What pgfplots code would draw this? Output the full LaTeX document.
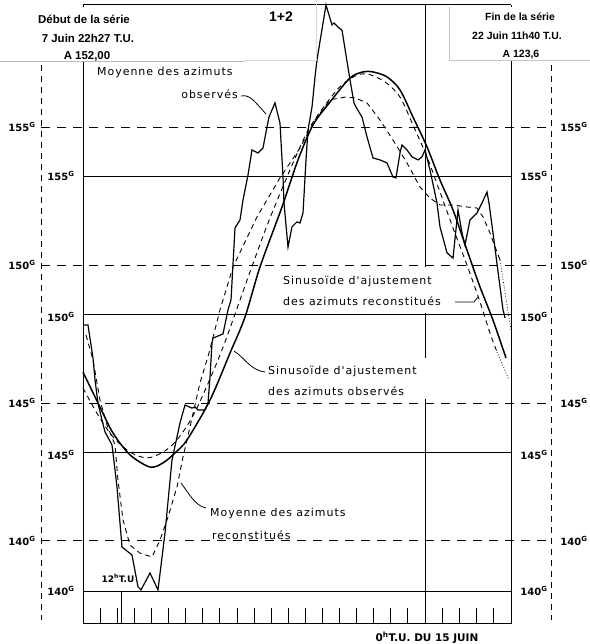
\documentclass[border=0pt]{standalone}
\usepackage{pgfplots}
\pgfplotsset{compat=1.18}
\usepackage{fontspec}
\setmainfont{DejaVu Sans}
\newfontfamily\annot[LetterSpace=9]{DejaVu Sans}
\newfontfamily\boxfont{Liberation Sans}
\begin{document}
\begin{tikzpicture}
\begin{axis}[
  width=590bp, height=644bp, scale only axis,
  xmin=-16.569, xmax=6.433, ymin=138.085, ymax=161.359,
  axis lines=none, clip=false, ticks=none,
]
% solid grid (inner scale)
\draw[line width=0.9pt] (axis cs:-13.333,155) -- (axis cs:3.353,155);
\draw[line width=0.9pt] (axis cs:-13.333,150) -- (axis cs:3.353,150);
\draw[line width=0.9pt] (axis cs:-13.333,145) -- (axis cs:3.353,145);
\draw[line width=0.9pt] (axis cs:-13.333,140) -- (axis cs:3.353,140);
\draw[line width=0.9pt] (axis cs:-13.333,161.18) -- (axis cs:3.353,161.18);
\draw[line width=0.9pt] (axis cs:-13.333,138.81) -- (axis cs:3.353,138.81);
\draw[line width=0.9pt] (axis cs:-13.333,161.18) -- (axis cs:-13.333,138.81);
\draw[line width=0.9pt] (axis cs:3.353,161.18) -- (axis cs:3.353,138.81);
\draw[line width=0.9pt] (axis cs:0,161.18) -- (axis cs:0,138.81);
\draw[line width=0.9pt] (axis cs:-11.852,140) -- (axis cs:-11.852,138.81);
\pgfplotsinvokeforeach{-12.667,-12,-11.333,-10.667,-10,-9.333,-8.667,-8,-7.333,-6.667,-6,-5.333,-4.667,-4,-3.333,-2.667,-2,-1.333,-0.667,0.667,1.333,2,2.667}{
  \draw[line width=0.8pt] (axis cs:#1,138.81) -- (axis cs:#1,139.39);
}
% dashed grid (outer scale)
\draw[line width=0.9pt, dash pattern=on 9bp off 7bp] (axis cs:-14.971,141.81) -- (axis cs:4.912,141.81);
\draw[line width=0.9pt, dash pattern=on 9bp off 7bp] (axis cs:-14.971,146.79) -- (axis cs:4.912,146.79);
\draw[line width=0.9pt, dash pattern=on 9bp off 7bp] (axis cs:-14.971,151.78) -- (axis cs:4.912,151.78);
\draw[line width=0.9pt, dash pattern=on 9bp off 7bp] (axis cs:-14.971,156.77) -- (axis cs:4.912,156.77);
\draw[line width=0.7pt, dash pattern=on 6bp off 5bp] (axis cs:-14.971,161.0) -- (axis cs:-14.971,138.95);
\draw[line width=0.7pt, dash pattern=on 6bp off 5bp] (axis cs:4.912,161.0) -- (axis cs:4.912,138.95);

% Moyenne des azimuts observes
\addplot[black, line width=1.2pt, sharp plot] coordinates {
(-13.333,149.61) (-13.138,149.61) (-12.943,148.42) (-12.865,147.63) (-12.749,146.79)
(-12.593,146.18) (-12.476,145.75) (-12.203,145.28) (-12.164,144.99) (-12.008,143.76)
(-11.813,141.59) (-11.423,141.30) (-11.189,140.15) (-11.072,140.04) (-10.721,140.65)
(-10.409,140.04) (-10.136,142.10) (-9.864,144.73) (-9.552,146.07) (-9.357,146.72)
(-9.084,146.61) (-8.967,146.65) (-8.850,146.54) (-8.577,146.54) (-8.460,146.79)
(-8.382,147.73) (-8.304,148.96) (-8.265,149.14) (-7.875,149.29) (-7.680,150.16)
(-7.563,150.52) (-7.407,153.12) (-7.212,153.41) (-7.096,154.13) (-6.901,155.03)
(-6.745,155.94) (-6.511,155.83) (-6.316,156.01) (-6.160,156.77) (-6.082,157.13)
(-5.848,157.64) (-5.653,156.91) (-5.536,154.96) (-5.497,154.02) (-5.341,152.43)
(-5.185,153.16) (-4.990,153.34) (-4.873,153.30) (-4.756,153.66) (-4.639,155.58)
(-4.561,156.66) (-4.405,157.49) (-4.288,158.58) (-4.211,159.19) (-3.860,161.18)
(-3.626,160.46) (-3.548,160.53) (-3.353,160.35) (-3.236,160.27) (-2.924,158.47)
(-2.768,157.64) (-2.690,157.49) (-2.456,157.13) (-2.261,156.41) (-2.027,155.65)
(-1.754,155.58) (-1.481,155.47) (-1.248,154.96) (-1.131,154.93) (-0.975,155.83)
(-0.897,156.12) (-0.702,155.94) (-0.507,155.69) (-0.273,155.58) (-0.117,155.69)
(0,155.94) (0.195,155.22) (0.468,154.02) (0.585,153.16) (0.858,152.22)
(1.092,152.03) (1.287,153.77) (1.443,152.94) (1.559,152.50) (1.754,153.41)
(2.027,153.66) (2.222,154.02) (2.417,154.42) (2.495,154.02) (2.651,152.94)
(3.041,150.16) (3.119,149.87)
};
% Sinusoide d'ajustement des azimuts observes
\addplot[black, line width=1.5pt, smooth] coordinates {
(-13.333,147.91) (-12.671,146.65) (-12.164,145.71) (-11.501,144.92) (-10.721,144.48)
(-10.214,144.63) (-9.747,144.99) (-9.279,145.46) (-8.382,146.90) (-7.602,148.60)
(-7.018,149.90) (-6.433,151.71) (-5.575,153.88) (-4.951,155.58) (-4.366,156.84)
(-3.704,157.67) (-2.924,158.54) (-2.417,158.76) (-2.027,158.76) (-1.481,158.58)
(-0.975,158.11) (-0.468,157.13) (0.078,156.05) (0.585,154.85) (1.092,153.77)
(1.637,152.32) (2.144,150.99) (2.651,149.79) (3.158,148.42)
};
% Sinusoide d'ajustement des azimuts reconstitues
\addplot[black, line width=0.9pt, smooth, dash pattern=on 5bp off 4bp] coordinates {
(-13.333,147.34) (-12.749,146.36) (-12.164,145.57) (-11.501,145.02) (-10.838,144.81)
(-10.214,145.02) (-9.669,145.46) (-8.967,146.47) (-7.992,148.53) (-7.212,150.52)
(-6.628,152.03) (-6.043,153.48) (-5.146,155.47) (-4.483,156.77) (-3.431,158.11)
(-2.729,158.61) (-2.222,158.68) (-1.559,158.40) (-0.975,157.85) (-0.468,156.84)
(0.078,155.69) (0.585,154.42) (1.092,153.12) (1.637,151.78) (2.144,150.45)
(2.534,149.32) (2.807,148.64)
};
\addplot[black, line width=0.8pt, dotted] coordinates {(2.807,148.64) (3.275,147.63)};
% Moyenne des azimuts reconstitues
\addplot[black, line width=0.9pt, sharp plot, dash pattern=on 5bp off 4bp] coordinates {
(-13.216,149.25) (-12.943,148.35) (-12.671,146.90) (-12.398,146.00) (-12.086,145.28)
(-11.969,144.01) (-11.774,142.57) (-11.501,141.66) (-11.111,141.37) (-10.643,141.23)
(-10.331,141.84) (-10.020,142.67) (-9.669,143.76) (-9.435,144.84) (-9.162,145.93)
(-8.772,147.52) (-8.421,148.60) (-7.992,150.16) (-7.485,151.71) (-6.550,153.52)
(-5.653,154.93) (-4.873,156.01) (-4.288,157.02) (-3.704,157.75) (-3.119,157.85)
(-2.729,157.82) (-2.261,157.64) (-1.754,157.02) (-1.248,156.30) (-0.702,155.47)
(-0.195,154.60) (0.195,154.20) (0.585,153.95) (1.092,153.95) (1.637,153.88)
(2.027,153.84) (2.261,153.52) (2.534,152.94) (2.924,151.96)
};
\addplot[black, line width=0.8pt, dotted] coordinates {(2.924,151.96) (3.353,149.43)};
\end{axis}
% annotations in picture pixel coordinates
\begin{scope}[x=1bp,y=-1bp,shift={(0,644bp)}]
% white ground behind the curve labels (they interrupt the 0h line)
\fill[white] (278,267) rectangle (449,313);
\fill[white] (264,358) rectangle (445,399);
% overlay boxes
\fill[white] (0,7) rectangle (316,61);
\draw[gray!55, line width=0.6pt] (0,61) -- (245,61);
\draw[gray!30, line width=0.6pt] (245,60) -- (316,60) -- (316,0);
\fill[white] (449,7) rectangle (590,60);
\draw[gray!45, line width=0.6pt] (449,7) -- (449,60) -- (590,60);
\node[font=\boxfont\bfseries\fontsize{11.5}{12}\selectfont] at (84,19) {Début de la série};
\node[font=\boxfont\bfseries\fontsize{11.5}{12}\selectfont] at (88,38) {7 Juin 22h27 T.U.};
\node[font=\boxfont\bfseries\fontsize{11.5}{12}\selectfont] at (87,56) {A 152,00};
\node[font=\boxfont\bfseries\fontsize{14}{14}\selectfont] at (281,17) {1+2};
\node[font=\boxfont\bfseries\fontsize{10.5}{12}\selectfont] at (520,17) {Fin de la série};
\node[font=\boxfont\bfseries\fontsize{10.5}{12}\selectfont] at (517,36) {22 Juin 11h40 T.U.};
\node[font=\boxfont\bfseries\fontsize{10.5}{12}\selectfont] at (521,55) {A 123,6};
% scale labels
\begin{scope}[every node/.style={font=\bfseries\fontsize{10}{12}\selectfont, inner sep=0pt}]
\node at (61,176) {155\textsuperscript{G}};
\node at (61,317) {150\textsuperscript{G}};
\node at (61,455) {145\textsuperscript{G}};
\node at (61,591) {140\textsuperscript{G}};
\node at (534,176) {155\textsuperscript{G}};
\node at (534,317) {150\textsuperscript{G}};
\node at (534,455) {145\textsuperscript{G}};
\node at (534,591) {140\textsuperscript{G}};
\node at (22,127) {155\textsuperscript{G}};
\node at (22,265) {150\textsuperscript{G}};
\node at (22,403) {145\textsuperscript{G}};
\node at (22,541) {140\textsuperscript{G}};
\node at (574,127) {155\textsuperscript{G}};
\node at (574,265) {150\textsuperscript{G}};
\node at (574,403) {145\textsuperscript{G}};
\node at (574,541) {140\textsuperscript{G}};
\end{scope}
% curve annotations
\begin{scope}[every node/.style={font=\annot\fontsize{11}{13}\selectfont, inner sep=0pt}]
\node[anchor=west] at (97,72) {Moyenne des azimuts};
\node[anchor=east] at (238,94) {observés};
\node[anchor=west] at (283,281) {Sinusoïde d'ajustement};
\node[anchor=west] at (283,301) {des azimuts reconstitués};
\node[anchor=west] at (268,371) {Sinusoïde d'ajustement};
\node[anchor=west] at (268,391) {des azimuts observés};
\node[anchor=west] at (210,513) {Moyenne des azimuts};
\node[anchor=west] at (212,535) {reconstitués};
\end{scope}
\draw[line width=0.8pt] (241,96) .. controls (250,94) and (255,102) .. (266,114);
\draw[line width=0.8pt] (455,302) -- (474,302) -- (478,297);
\draw[line width=0.8pt] (265,372) .. controls (250,370) and (245,358) .. (234,351);
\draw[line width=0.8pt] (206,508) .. controls (195,506) and (188,492) .. (181,483);
\node[font=\bfseries\fontsize{9}{11}\selectfont, inner sep=0pt] at (118,578) {12\textsuperscript{h}T.U};
\node[font=\bfseries\fontsize{10.5}{12}\selectfont, inner sep=0pt] at (427,638) {0\textsuperscript{h}T.U. DU 15 JUIN};
\end{scope}
\pgfresetboundingbox
\path (0,0) rectangle (590bp,644bp);
\end{tikzpicture}
\end{document}
